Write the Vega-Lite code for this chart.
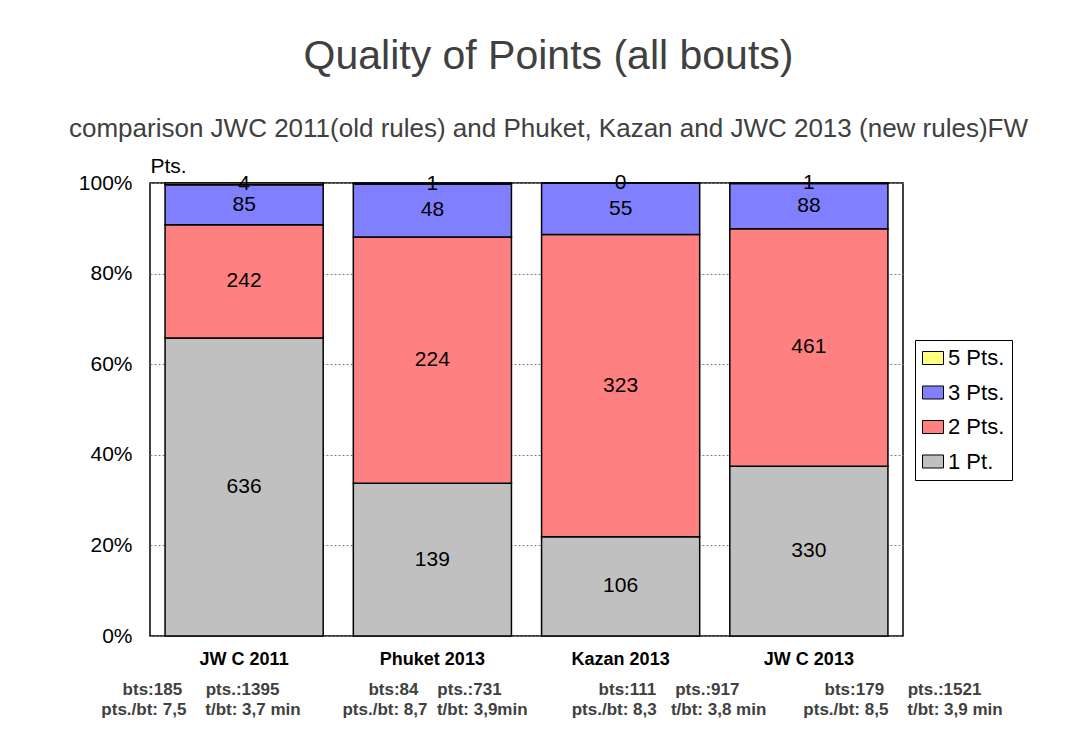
{
  "$schema": "https://vega.github.io/schema/vega-lite/v6.json",
  "width": 753,
  "height": 453,
  "autosize": {"type": "none"},
  "padding": {"left": 150, "top": 183, "right": 179, "bottom": 106},
  "background": "white",
  "title": {
    "text": "Quality of Points (all bouts)",
    "subtitle": "comparison JWC 2011(old rules) and Phuket, Kazan and JWC 2013 (new rules)FW",
    "anchor": "middle",
    "dx": 22,
    "font": "Liberation Sans",
    "fontSize": 41,
    "fontWeight": "normal",
    "color": "#404040",
    "subtitleFont": "Liberation Sans",
    "subtitleFontSize": 26,
    "subtitleColor": "#404040",
    "subtitlePadding": 38,
    "offset": 12
  },
  "config": {
    "view": {"stroke": "black", "strokeWidth": 1.5},
    "font": "Liberation Sans"
  },
  "datasets": {
    "points": [
      {"event": "JW C 2011", "category": "1 Pt.", "pts": 1, "count": 636},
      {"event": "JW C 2011", "category": "2 Pts.", "pts": 2, "count": 242},
      {"event": "JW C 2011", "category": "3 Pts.", "pts": 3, "count": 85},
      {"event": "JW C 2011", "category": "5 Pts.", "pts": 5, "count": 4},
      {"event": "Phuket 2013", "category": "1 Pt.", "pts": 1, "count": 139},
      {"event": "Phuket 2013", "category": "2 Pts.", "pts": 2, "count": 224},
      {"event": "Phuket 2013", "category": "3 Pts.", "pts": 3, "count": 48},
      {"event": "Phuket 2013", "category": "5 Pts.", "pts": 5, "count": 1},
      {"event": "Kazan 2013", "category": "1 Pt.", "pts": 1, "count": 106},
      {"event": "Kazan 2013", "category": "2 Pts.", "pts": 2, "count": 323},
      {"event": "Kazan 2013", "category": "3 Pts.", "pts": 3, "count": 55},
      {"event": "Kazan 2013", "category": "5 Pts.", "pts": 5, "count": 0},
      {"event": "JW C 2013", "category": "1 Pt.", "pts": 1, "count": 330},
      {"event": "JW C 2013", "category": "2 Pts.", "pts": 2, "count": 461},
      {"event": "JW C 2013", "category": "3 Pts.", "pts": 3, "count": 88},
      {"event": "JW C 2013", "category": "5 Pts.", "pts": 5, "count": 1}
    ],
    "stats": [
      {"event": "JW C 2011", "lines": ["bts:185\u00a0\u00a0\u00a0\u00a0\u00a0pts.:1395", "pts./bt: 7,5\u00a0\u00a0\u00a0\u00a0t/bt: 3,7 min"]},
      {"event": "Phuket 2013", "lines": ["bts:84\u00a0\u00a0\u00a0\u00a0pts.:731", "pts./bt: 8,7\u00a0\u00a0t/bt: 3,9min"]},
      {"event": "Kazan 2013", "lines": ["bts:111\u00a0\u00a0\u00a0\u00a0pts.:917", "pts./bt: 8,3\u00a0\u00a0\u00a0t/bt: 3,8 min"]},
      {"event": "JW C 2013", "lines": ["bts:179\u00a0\u00a0\u00a0\u00a0\u00a0pts.:1521", "pts./bt: 8,5\u00a0\u00a0\u00a0\u00a0t/bt: 3,9 min"]}
    ]
  },
  "resolve": {"scale": {"x": "independent"}},
  "layer": [
    {
      "encoding": {
        "x": {
          "field": "event",
          "type": "nominal",
          "sort": ["JW C 2011", "Phuket 2013", "Kazan 2013", "JW C 2013"],
          "scale": {"paddingInner": 0.16, "paddingOuter": 0.08},
          "axis": {
            "title": null,
            "labelAngle": 0,
            "labelFontSize": 18,
            "labelFontWeight": "bold",
            "labelColor": "black",
            "labelPadding": 14,
            "ticks": false,
            "domain": false
          }
        }
      },
      "layer": [
        {
          "data": {"name": "points"},
          "mark": {"type": "bar", "stroke": "black", "strokeWidth": 1.5},
          "encoding": {
            "y": {
              "field": "count",
              "type": "quantitative",
              "stack": "normalize",
              "scale": {"domain": [0, 1]},
              "axis": {
                "format": "%",
                "values": [0, 0.2, 0.4, 0.6, 0.8, 1],
                "grid": true,
                "gridDash": [2, 2],
                "gridColor": "#808080",
                "gridWidth": 1,
                "ticks": false,
                "domain": false,
                "labelFontSize": 21,
                "labelColor": "black",
                "labelPadding": 18,
                "title": "Pts.",
                "titleAngle": 0,
                "titleX": 0,
                "titleY": -7,
                "titleAlign": "left",
                "titleBaseline": "bottom",
                "titleFontSize": 21,
                "titleFontWeight": "normal",
                "titleColor": "black"
              }
            },
            "order": {"field": "pts", "type": "quantitative", "sort": "ascending"},
            "color": {
              "field": "category",
              "type": "nominal",
              "scale": {
                "domain": ["5 Pts.", "3 Pts.", "2 Pts.", "1 Pt."],
                "range": ["#FFFF80", "#8080FF", "#FF8080", "#C0C0C0"]
              },
              "legend": {
                "orient": "none",
                "legendX": 765,
                "legendY": 157,
                "title": null,
                "labelFontSize": 22,
                "labelColor": "black",
                "labelOffset": 4,
                "strokeColor": "black",
                "padding": 7,
                "rowPadding": 12.5,
                "symbolType": "M-1,-0.62H1V0.62H-1Z",
                "symbolSize": 441,
                "symbolStrokeColor": "black",
                "symbolStrokeWidth": 1,
                "symbolOpacity": 1
              }
            }
          }
        },
        {
          "data": {"name": "points"},
          "mark": {"type": "text", "fontSize": 21, "color": "black", "baseline": "middle"},
          "encoding": {
            "y": {"field": "count", "type": "quantitative", "stack": "normalize", "bandPosition": 0.5},
            "order": {"field": "pts", "type": "quantitative", "sort": "ascending"},
            "detail": {"field": "category"},
            "text": {"field": "count", "type": "quantitative"}
          }
        }
      ]
    },
    {
      "data": {"name": "stats"},
      "mark": {
        "type": "text",
        "font": "Liberation Sans",
        "fontWeight": "bold",
        "fontSize": 17,
        "color": "#404040",
        "align": "center",
        "baseline": "top",
        "lineHeight": 20
      },
      "encoding": {
        "x": {
          "field": "event",
          "type": "nominal",
          "sort": ["JW C 2011", "Phuket 2013", "Kazan 2013", "JW C 2013"],
          "scale": {"type": "point", "padding": 0.109, "align": 1},
          "axis": null
        },
        "y": {"datum": -0.102, "type": "quantitative"},
        "text": {"field": "lines"}
      }
    }
  ]
}
